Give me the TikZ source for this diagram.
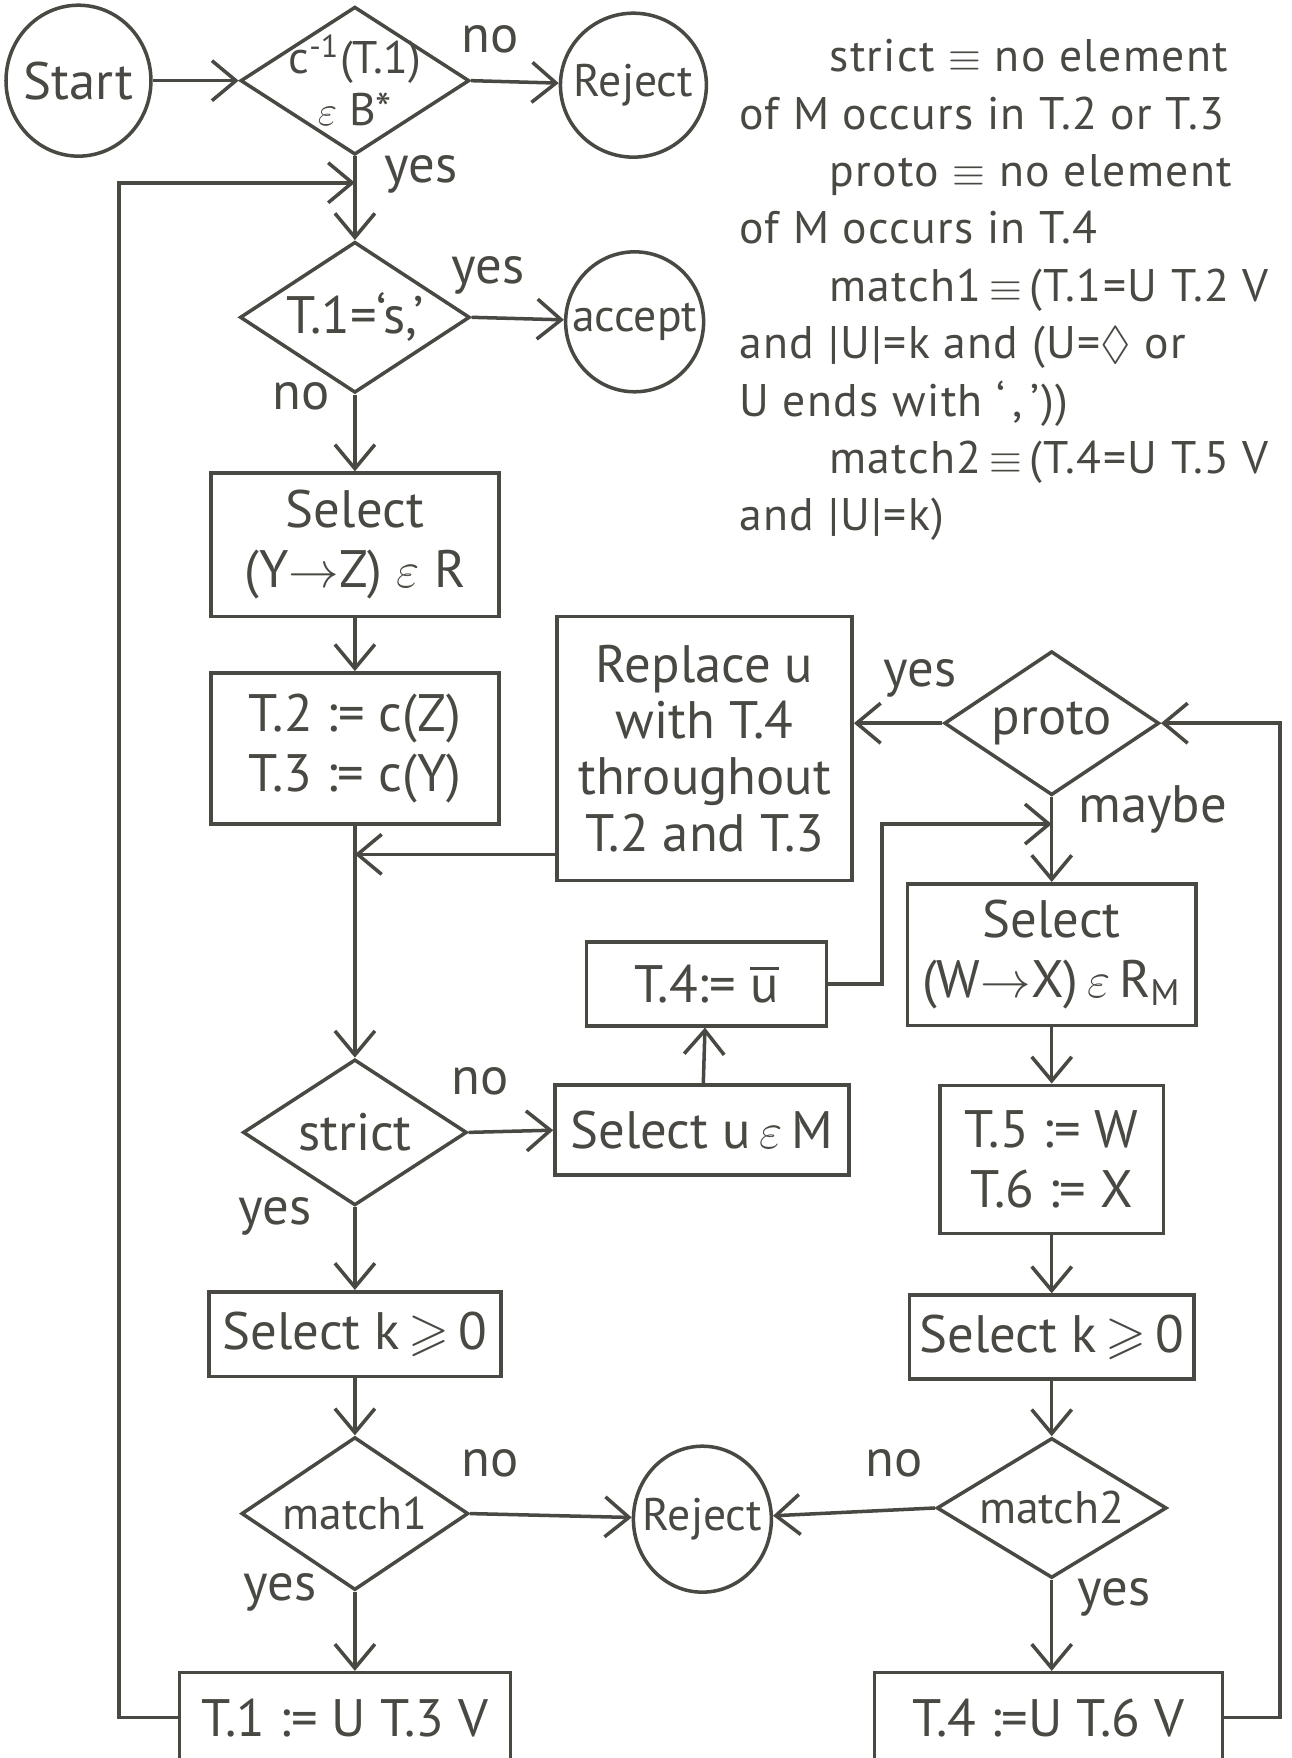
\documentclass[tikz,border=0pt]{standalone}
\usepackage{amssymb}
\usepackage{fontspec}
\setmainfont{PT Sans}
\usetikzlibrary{shapes.geometric,arrows.meta}

\definecolor{ink}{RGB}{74,72,66}

\tikzset{
	terminal/.style={ellipse, draw, inner sep=0pt},
	process/.style={rectangle, draw, align=center, inner sep=0pt},
	decision/.style={diamond, draw, inner sep=0pt},
	flow/.style={-{Straight Barb[length=2.4mm,width=4mm]}},
	small/.style={font=\fontsize{13}{15}\selectfont},
	defn/.style={anchor=base west, inner sep=0pt, font=\fontsize{13}{15}\selectfont\addfontfeature{LetterSpace=3}},
}

\begin{document}
\begin{tikzpicture}[y=-1cm, line width=1pt, draw=ink, text=ink, font=\fontsize{15}{17}\selectfont]
	\useasboundingbox (0,0) rectangle (12.92,17.585);
	\clip (0,0) rectangle (12.92,17.585);
	
	% left column
	\node[terminal, minimum width=1.45cm, minimum height=1.51cm] (start) at (0.785,0.807) {};
	\node (start-t) at (start) {Start};
	\node[decision, minimum width=2.29cm, minimum height=1.48cm] (chk) at (3.55,0.807) {};
	\node[align=center, small] (chk-t) at (chk) {c\textsuperscript{-1}(T.1)\\$\varepsilon$ B*};
	\node[terminal, minimum width=1.46cm, minimum height=1.44cm] (rej1) at (6.336,0.852) {};
	\node[small] (rej1-t) at (rej1) {Reject};
	\node[decision, minimum width=2.30cm, minimum height=1.51cm] (fin) at (3.55,3.174) {};
	\node (fin-t) at (fin) {T.1=‘s,’};
	\node[terminal, minimum width=1.38cm, minimum height=1.40cm] (acc) at (6.348,3.219) {};
	\node[small] (acc-t) at (acc) {accept};
	\node[process, minimum width=2.88cm, minimum height=1.435cm] (sel1) at (3.55,5.450) {Select\\(Y$\rightarrow$Z) $\varepsilon$ R};
	\node[process, minimum width=2.88cm, minimum height=1.51cm] (asg) at (3.55,7.486) {T.2 := c(Z)\\T.3 := c(Y)};
	\node[decision, minimum width=2.24cm, minimum height=1.46cm] (strict) at (3.55,11.327) {};
	\node (strict-t) at (strict) {strict};
	\node[process, minimum width=2.92cm, minimum height=0.85cm] (selk1) at (3.55,13.346) {Select k\,$\geqslant$\,0};
	\node[decision, minimum width=2.27cm, minimum height=1.53cm] (m1) at (3.55,15.140) {};
	\node[small] (m1-t) at (m1) {match1};
	\node[process, minimum width=3.31cm, minimum height=0.90cm] (upd1) at (3.449,17.181) {T.1 := U T.3 V};
	
	% middle column
	\node[process, minimum width=2.95cm, minimum height=2.64cm, font=\fontsize{15}{16}\selectfont] (rep) at (7.049,7.486) {Replace u\\with T.4\\throughout\\T.2 and T.3};
	\node[process, minimum width=2.40cm, minimum height=0.84cm] (t4u) at (7.065,9.841) {T.4:= $\overline{\mbox{u}}$};
	\node[process, minimum width=2.94cm, minimum height=0.90cm] (selu) at (7.021,11.305) {Select u\,$\varepsilon$\,M};
	\node[terminal, minimum width=1.38cm, minimum height=1.46cm] (rej2) at (7.026,15.196) {};
	\node[small] (rej2-t) at (rej2) {Reject};
	
	% right column
	\node[decision, minimum width=2.15cm, minimum height=1.44cm] (proto) at (10.52,7.234) {};
	\node (proto-t) at (proto) {proto};
	\node[process, minimum width=2.89cm, minimum height=1.42cm] (selW) at (10.52,9.550) {Select\\(W$\rightarrow$X)\,$\varepsilon$\,R\textsubscript{M}};
	\node[process, minimum width=2.24cm, minimum height=1.48cm] (t56) at (10.52,11.596) {T.5 := W\\T.6 := X};
	\node[process, minimum width=2.85cm, minimum height=0.84cm] (selk2) at (10.52,13.374) {Select k\,$\geqslant$\,0};
	\node[decision, minimum width=2.30cm, minimum height=1.40cm] (m2) at (10.52,15.084) {};
	\node[small] (m2-t) at (m2) {match2};
	\node[process, minimum width=3.48cm, minimum height=0.90cm] (upd2) at (10.486,17.181) {T.4 :=U T.6 V};
	
	% junctions
	\coordinate (j1) at (3.55,1.828);
	\coordinate (j2) at (3.55,8.546);
	\coordinate (j3) at (10.52,8.243);
	
	% connectors
	\draw[flow] (start) -- (chk.west);
	\draw[flow] (chk.east) -- (rej1);
	\draw[flow] (chk.south) -- (fin.north);
	\draw[flow] (upd1.west) -- ++(-0.584,0) |- (j1);
	\draw[flow] (fin.east) -- (acc);
	\draw[flow] (fin.south) -- (sel1.north);
	\draw[flow] (sel1) -- (asg);
	\draw[flow] (asg.south) -- (strict.north);
	\draw[flow] (rep.west |- j2) -- (j2);
	\draw[flow] (strict.east) -- (selu.west);
	\draw[flow] (selu) -- (t4u);
	\draw[flow] (t4u.east) -- ++(0.54,0) |- (j3);
	\draw[flow] (proto.west) -- (rep.east |- proto.west);
	\draw[flow] (proto.south) -- (selW.north);
	\draw[flow] (selW) -- (t56);
	\draw[flow] (t56) -- (selk2);
	\draw[flow] (selk2) -- (m2.north);
	\draw[flow] (m2.south) -- (m2.south |- upd2.north);
	\draw[flow] (m2.west) -- (rej2);
	\draw[flow] (upd2.east) -- ++(0.56,0) |- (proto.east);
	\draw[flow] (strict.south) -- (selk1.north);
	\draw[flow] (selk1) -- (m1.north);
	\draw[flow] (m1.east) -- (rej2);
	\draw[flow] (m1.south) -- (m1.south |- upd1.north);
	
	% branch labels
	\node (no1) at (4.90,0.39) {no};
	\node (yes1) at (4.21,1.74) {yes};
	\node (yes2) at (4.88,2.75) {yes};
	\node (no2) at (3.01,3.96) {no};
	\node (yes3) at (9.20,6.79) {yes};
	\node (maybe) at (11.53,8.10) {maybe};
	\node (no3) at (4.80,10.82) {no};
	\node (yes4) at (2.75,12.17) {yes};
	\node (no4) at (4.90,14.64) {no};
	\node (no5) at (8.94,14.64) {no};
	\node (yes5) at (2.80,15.93) {yes};
	\node (yes6) at (11.14,15.98) {yes};
	
	% definitions
	\node[defn] (def1) at (8.28,0.718) {strict $\equiv$ no element};
	\node[defn] (def2) at (7.38,1.292) {of M occurs in T.2 or T.3};
	\node[defn] (def3) at (8.28,1.866) {proto $\equiv$ no element};
	\node[defn] (def4) at (7.38,2.440) {of M occurs in T.4};
	\node[defn] (def5) at (8.28,3.014) {match1\,$\equiv$\,(T.1=U T.2 V};
	\node[defn] (def6) at (7.38,3.588) {and |U|=k and (U=$\Diamond$ or};
	\node[defn] (def7) at (7.38,4.162) {U ends with ‘\,,\,’))};
	\node[defn] (def8) at (8.28,4.736) {match2\,$\equiv$\,(T.4=U T.5 V};
	\node[defn] (def9) at (7.38,5.310) {and |U|=k)};
\end{tikzpicture}
\end{document}
